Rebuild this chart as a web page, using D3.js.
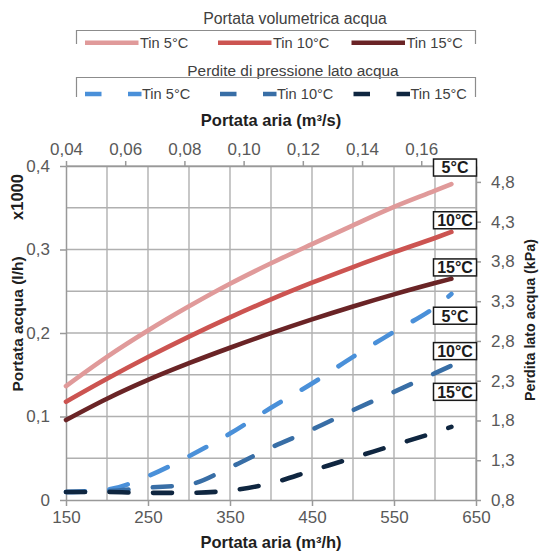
<!DOCTYPE html>
<html>
<head>
<meta charset="utf-8">
<script src="https://cdn.jsdelivr.net/npm/d3@7"></script>
<style>
  body { margin: 0; background: #fff; }
  svg { display: block; }
  text { font-family: "Liberation Sans", Arial, sans-serif; }
</style>
</head>
<body>
<svg id="chart" width="541" height="552"></svg>
<script>
// Air flow (m³/h) at which each series is sampled
const airFlow = [150, 200, 250, 300, 350, 400, 450, 500, 550, 600, 620];

// Water volume flow (l/h, ×1000) — left axis
const waterTin5  = [0.1365, 0.1715, 0.2030, 0.2320, 0.2590, 0.2835, 0.3065, 0.3290, 0.3510, 0.3705, 0.3784];
const waterTin10 = [0.1177, 0.1452, 0.1712, 0.1957, 0.2187, 0.2402, 0.2602, 0.2790, 0.2968, 0.3138, 0.3210];
const waterTin15 = [0.0958, 0.1213, 0.1438, 0.1638, 0.1823, 0.1998, 0.2163, 0.2318, 0.2463, 0.2598, 0.2650];

// Water-side pressure loss (kPa) — right axis
const lossTin5  = [0.90, 0.93, 1.10, 1.35, 1.635, 1.96, 2.265, 2.60, 2.915, 3.225, 3.39];
const lossTin10 = [0.90, 0.91, 0.955, 0.995, 1.21, 1.46, 1.685, 1.93, 2.16, 2.395, 2.49];
const lossTin15 = [0.90, 0.90, 0.89, 0.89, 0.92, 1.01, 1.17, 1.33, 1.49, 1.65, 1.72];

// Tick values
const bottomTicks = [150, 250, 350, 450, 550, 650];
const topTicks    = [0.04, 0.06, 0.08, 0.10, 0.12, 0.14, 0.16];
const leftTicks   = [0, 0.1, 0.2, 0.3, 0.4];
const rightTicks  = [0.8, 1.3, 1.8, 2.3, 2.8, 3.3, 3.8, 4.3, 4.8];

const tempLabels = ["5°C", "10°C", "15°C"];
const legendLabels = ["Tin 5°C", "Tin 10°C", "Tin 15°C"];

const svg = d3.select("#chart");
const M = { left: 66, right: 476, top: 166, bottom: 500 };

const x    = d3.scaleLinear().domain([150, 650]).range([M.left, M.right]);
const xTop = d3.scaleLinear().domain([0.04, 0.1785]).range([M.left, M.right]);
const yL   = d3.scaleLinear().domain([0, 0.4]).range([M.bottom, M.top]);
const yR   = d3.scaleLinear().domain([0.8, 5.0]).range([M.bottom, M.top]);

const it = d3.formatLocale({ decimal: ",", thousands: ".", grouping: [3], currency: ["", "€"] });
const f1 = it.format(".1f"), f2 = it.format(".2f");

const gridColor = "#b0b0b0";
const axisColor = "#999999";
const tickText = "#595959";

// Gridlines
const grid = svg.append("g");
grid.selectAll("line.v").data(d3.range(200, 651, 50)).join("line")
  .attr("x1", d => x(d)).attr("x2", d => x(d))
  .attr("y1", M.top).attr("y2", M.bottom)
  .attr("stroke", gridColor).attr("stroke-width", 1.4);
grid.selectAll("line.h").data(d3.range(0.05, 0.401, 0.05)).join("line")
  .attr("x1", M.left).attr("x2", M.right)
  .attr("y1", d => yL(d)).attr("y2", d => yL(d))
  .attr("stroke", gridColor).attr("stroke-width", 1.4);

function styleAxis(g, size) {
  g.select(".domain").attr("stroke", axisColor).attr("stroke-width", 1.5);
  g.selectAll(".tick line").attr("stroke", axisColor).attr("stroke-width", 1.5);
  g.selectAll(".tick text").attr("fill", tickText).attr("font-size", size)
    .attr("font-family", "Liberation Sans, Arial, sans-serif");
}

// Bottom axis
svg.append("g").attr("transform", `translate(0,${M.bottom})`)
  .call(d3.axisBottom(x).tickValues(bottomTicks).tickSize(6).tickSizeOuter(0).tickPadding(5))
  .call(g => styleAxis(g, 17));

// Top axis
svg.append("g").attr("transform", `translate(0,${M.top})`)
  .call(d3.axisTop(xTop).tickValues(topTicks).tickFormat(f2).tickSize(5).tickSizeOuter(0).tickPadding(6))
  .call(g => styleAxis(g, 17));

// Left axis
svg.append("g").attr("transform", `translate(${M.left},0)`)
  .call(d3.axisLeft(yL).tickValues(leftTicks).tickFormat(d => d === 0 ? "0" : f1(d)).tickSize(6).tickSizeOuter(0).tickPadding(10))
  .call(g => styleAxis(g, 17));

// Right axis
svg.append("g").attr("transform", `translate(${M.right},0)`)
  .call(d3.axisRight(yR).tickValues(rightTicks).tickFormat(f1).tickSize(5).tickSizeOuter(0).tickPadding(10))
  .call(g => styleAxis(g, 17));

// Axis titles
const titleFill = "#1f1f1f";
svg.append("text").attr("x", 271).attr("y", 548).attr("text-anchor", "middle")
  .attr("font-weight", "bold").attr("font-size", 16.5).attr("fill", titleFill).text("Portata aria (m³/h)");
svg.append("text").attr("x", 271).attr("y", 126).attr("text-anchor", "middle")
  .attr("font-weight", "bold").attr("font-size", 16.5).attr("fill", titleFill).text("Portata aria (m³/s)");
svg.append("text").attr("transform", "translate(23,324) rotate(-90)").attr("text-anchor", "middle")
  .attr("font-weight", "bold").attr("font-size", 15.5).attr("fill", titleFill).text("Portata acqua (l/h)");
svg.append("text").attr("transform", "translate(23,197) rotate(-90)").attr("text-anchor", "middle")
  .attr("font-weight", "bold").attr("font-size", 16.5).attr("fill", titleFill).text("x1000");
svg.append("text").attr("transform", "translate(535,320) rotate(-90)").attr("text-anchor", "middle")
  .attr("font-weight", "bold").attr("font-size", 14.3).attr("fill", titleFill).text("Perdita lato acqua (kPa)");

// Series
const waterColors = ["#e09a9a", "#cc5451", "#6a2426"];
const lossColors  = ["#4a90d9", "#386ea6", "#0f2640"];
const waterSeries = [waterTin5, waterTin10, waterTin15];
const lossSeries  = [lossTin5, lossTin10, lossTin15];

const lineL = d3.line().x((d, i) => x(airFlow[i])).y(d => yL(d)).curve(d3.curveMonotoneX);
const lineR = d3.line().x((d, i) => x(airFlow[i])).y(d => yR(d)).curve(d3.curveMonotoneX);

const dash = "19,24.5";
svg.append("g").selectAll("path").data(lossSeries).join("path")
  .attr("d", lineR).attr("fill", "none")
  .attr("stroke", (d, i) => lossColors[i]).attr("stroke-width", 4.6)
  .attr("stroke-linecap", "round").attr("stroke-dasharray", dash);

svg.append("g").selectAll("path").data(waterSeries).join("path")
  .attr("d", lineL).attr("fill", "none")
  .attr("stroke", (d, i) => waterColors[i]).attr("stroke-width", 4.6)
  .attr("stroke-linecap", "round");

// End-of-line temperature tags
const last = airFlow.length - 1;
const tagDyWater = [-16.5, -11.7, -11.3];
const tagDyLoss  = [21.7, -14.5, -35];
const tags = [];
waterSeries.forEach((s, i) => tags.push({ t: tempLabels[i], cy: yL(s[last]) + tagDyWater[i] }));
lossSeries.forEach((s, i) => tags.push({ t: tempLabels[i], cy: yR(s[last]) + tagDyLoss[i] }));
const tagCx = x(airFlow[last]) + 3.6;
const tg = svg.append("g").selectAll("g").data(tags).join("g")
  .attr("transform", d => `translate(${tagCx},${d.cy})`);
tg.append("rect").attr("x", -21.5).attr("y", -8.5).attr("width", 43).attr("height", 17)
  .attr("fill", "#fff").attr("stroke", "#1a1a1a").attr("stroke-width", 1.5);
tg.append("text").attr("text-anchor", "middle").attr("y", 5.8)
  .attr("font-weight", "bold").attr("font-size", 16).attr("fill", "#1a1a1a").text(d => d.t);

// Legends
const legFill = "#404040";
const lg = svg.append("g");
lg.append("text").attr("x", 295).attr("y", 23.8).attr("text-anchor", "middle")
  .attr("font-size", 15.8).attr("fill", legFill).text("Portata volumetrica acqua");
lg.append("path").attr("d", "M76.5,44V30.5H475.5V44").attr("fill", "none")
  .attr("stroke", "#8c8c8c").attr("stroke-width", 1.2);
lg.append("text").attr("x", 293).attr("y", 75.6).attr("text-anchor", "middle")
  .attr("font-size", 15.4).attr("fill", legFill).text("Perdite di pressione lato acqua");
lg.append("path").attr("d", "M76.5,97V77.5H475.5V97").attr("fill", "none")
  .attr("stroke", "#8c8c8c").attr("stroke-width", 1.2);

const legX = [85, 218, 351.5];
waterColors.forEach((c, i) => {
  lg.append("line").attr("x1", legX[i]).attr("x2", legX[i] + 53.5)
    .attr("y1", 42.7).attr("y2", 42.7).attr("stroke", c).attr("stroke-width", 4.6);
  lg.append("text").attr("x", legX[i] + 55).attr("y", 47.8)
    .attr("font-size", 14.6).attr("fill", legFill).text(legendLabels[i]);
});
const legX2 = [85, 220, 353.5];
lossColors.forEach((c, i) => {
  lg.append("line").attr("x1", legX2[i]).attr("x2", legX2[i] + 56.5)
    .attr("y1", 94).attr("y2", 94).attr("stroke", c).attr("stroke-width", 4.6)
    .attr("stroke-dasharray", "16.5,26.5");
  lg.append("text").attr("x", legX2[i] + 57).attr("y", 99.1)
    .attr("font-size", 14.6).attr("fill", legFill).text(legendLabels[i]);
});
</script>
</body>
</html>
